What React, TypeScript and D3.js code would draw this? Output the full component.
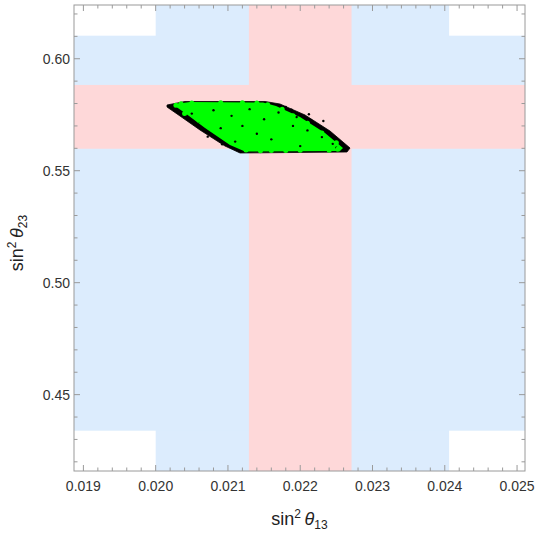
import * as d3 from "d3";
import { useEffect, useRef } from "react";

// axis ranges and tick labels
const xDomain = [0.01887, 0.02511];
const yDomain = [0.4159, 0.624];
const xTicks = [0.019, 0.02, 0.021, 0.022, 0.023, 0.024, 0.025];
const yTicks = [0.45, 0.5, 0.55, 0.6];

// 3 sigma bands (blue) and 1 sigma bands (pink)
const blueX = [0.02, 0.02406];
const blueY = [0.4339, 0.6103];
const pinkX = [0.02129, 0.02271];
const pinkY = [0.5598, 0.5883];

// allowed region: outline of the black points and of the green points
const blackEdge = [
  [0.020157, 0.57934], [0.020406, 0.58091], [0.021513, 0.58091], [0.02172, 0.57979],
  [0.022066, 0.57488], [0.022412, 0.56773], [0.022689, 0.56014], [0.022647, 0.55835],
  [0.021167, 0.55791], [0.020959, 0.56103], [0.020613, 0.56818], [0.020337, 0.57443],
  [0.020157, 0.57845]
];
const greenEdge = [
  [0.020267, 0.57979], [0.020475, 0.58068], [0.021485, 0.58046], [0.021665, 0.5789],
  [0.021997, 0.57398], [0.022343, 0.56684], [0.022592, 0.56014], [0.02255, 0.5588],
  [0.021236, 0.55858], [0.021028, 0.56148], [0.020683, 0.56907], [0.020406, 0.57577],
  [0.020267, 0.5789]
];
// dark specks seen inside the green cloud
const blackSpecks = [
  [0.0208, 0.577], [0.02105, 0.5745], [0.0213, 0.5775], [0.0215, 0.573], [0.0217, 0.576],
  [0.0219, 0.57], [0.0221, 0.568], [0.0223, 0.565], [0.02245, 0.562], [0.022, 0.561],
  [0.0216, 0.564], [0.0212, 0.57], [0.0214, 0.5665], [0.0211, 0.563], [0.0218, 0.5785],
  [0.0206, 0.572], [0.0209, 0.569], [0.0225, 0.5603], [0.02195, 0.574], [0.02215, 0.5725],
  [0.0226, 0.5612], [0.0205, 0.5755], [0.02205, 0.5745], [0.02235, 0.5675],
  [0.02188, 0.5772], [0.02212, 0.5752], [0.02232, 0.5722], [0.02092, 0.5618], [0.02072, 0.5652]
];
// green points poking out of the edges
const greenBumps = [
  [0.02028, 0.5792], [0.0204, 0.5755], [0.0206, 0.5725], [0.02085, 0.5678], [0.02105, 0.5642],
  [0.02125, 0.5592], [0.0216, 0.559], [0.022, 0.5591], [0.0224, 0.5591], [0.02252, 0.5596],
  [0.0225, 0.5625], [0.0223, 0.5668], [0.0221, 0.5712], [0.0219, 0.5745], [0.02175, 0.5775],
  [0.0214, 0.5802], [0.0209, 0.5803], [0.0205, 0.5802], [0.02155, 0.5795],
  [0.02035, 0.5799], [0.0212, 0.5804], [0.0218, 0.559], [0.02145, 0.5589], [0.02075, 0.5698]
];

const W = 535, H = 535;
const M = { left: 74, top: 5, right: 10, bottom: 64 };
const font = "'Liberation Sans', Arial, sans-serif";

const App = () => {
  const ref = useRef(null);

  useEffect(() => {
    const svg = d3.select(ref.current);
    svg.selectAll("*").remove();

    const x = d3.scaleLinear().domain(xDomain).range([M.left, W - M.right]);
    const y = d3.scaleLinear().domain(yDomain).range([H - M.bottom, M.top]);
    const x0 = M.left, x1 = W - M.right, y0 = H - M.bottom, y1 = M.top;

    const clip = svg.append("defs").append("clipPath").attr("id", "plotclip");
    clip.append("rect").attr("x", x0).attr("y", y1).attr("width", x1 - x0).attr("height", y0 - y1);

    const g = svg.append("g").attr("clip-path", "url(#plotclip)");

    // blue bands
    g.append("rect").attr("x", x(blueX[0])).attr("y", y1)
      .attr("width", x(blueX[1]) - x(blueX[0])).attr("height", y0 - y1).attr("fill", "#dcecfd");
    g.append("rect").attr("x", x0).attr("y", y(blueY[1]))
      .attr("width", x1 - x0).attr("height", y(blueY[0]) - y(blueY[1])).attr("fill", "#dcecfd");
    // pink bands
    g.append("rect").attr("x", x(pinkX[0])).attr("y", y1)
      .attr("width", x(pinkX[1]) - x(pinkX[0])).attr("height", y0 - y1).attr("fill", "#fed8d9");
    g.append("rect").attr("x", x0).attr("y", y(pinkY[1]))
      .attr("width", x1 - x0).attr("height", y(pinkY[0]) - y(pinkY[1])).attr("fill", "#fed8d9");

    const line = d3.line().x(d => x(d[0])).y(d => y(d[1])).curve(d3.curveLinearClosed);

    g.append("path").attr("d", line(blackEdge)).attr("fill", "#000")
      .attr("stroke", "#000").attr("stroke-width", 0.8).attr("stroke-linejoin", "round");
    g.append("path").attr("d", line(greenEdge)).attr("fill", "#00ff00");

    g.selectAll(".speck").data(blackSpecks).join("circle")
      .attr("cx", d => x(d[0])).attr("cy", d => y(d[1])).attr("r", 1.2).attr("fill", "#000");
    g.selectAll(".bump").data(greenBumps).join("circle")
      .attr("cx", d => x(d[0])).attr("cy", d => y(d[1])).attr("r", 2.5).attr("fill", "#00ff00");

    // frame
    const frameColor = "#9a9a9a";
    svg.append("rect").attr("x", x0).attr("y", y1).attr("width", x1 - x0).attr("height", y0 - y1)
      .attr("fill", "none").attr("stroke", frameColor).attr("stroke-width", 1);

    const ticks = svg.append("g").attr("stroke", frameColor).attr("stroke-width", 1);
    const xMinor = d3.range(0.0188, 0.0252, 0.0002).filter(v => v >= xDomain[0] && v <= xDomain[1]);
    const yMinor = d3.range(0.42, 0.63, 0.01).filter(v => v >= yDomain[0] && v <= yDomain[1]);
    const isMajorX = v => xTicks.some(t => Math.abs(t - v) < 1e-7);
    const isMajorY = v => yTicks.some(t => Math.abs(t - v) < 1e-6);

    xMinor.forEach(v => {
      const len = isMajorX(v) ? 6 : 3.5;
      ticks.append("line").attr("x1", x(v)).attr("x2", x(v)).attr("y1", y0).attr("y2", y0 - len);
      ticks.append("line").attr("x1", x(v)).attr("x2", x(v)).attr("y1", y1).attr("y2", y1 + len);
    });
    yMinor.forEach(v => {
      const len = isMajorY(v) ? 6 : 3.5;
      ticks.append("line").attr("x1", x0).attr("x2", x0 + len).attr("y1", y(v)).attr("y2", y(v));
      ticks.append("line").attr("x1", x1).attr("x2", x1 - len).attr("y1", y(v)).attr("y2", y(v));
    });

    svg.append("g").selectAll("text").data(xTicks).join("text")
      .attr("x", d => x(d)).attr("y", y0 + 20).attr("text-anchor", "middle")
      .attr("font-family", font).attr("font-size", 14).attr("fill", "#333")
      .text(d => d3.format(".3f")(d));
    svg.append("g").selectAll("text").data(yTicks).join("text")
      .attr("x", x0 - 4).attr("y", d => y(d) + 5).attr("text-anchor", "end")
      .attr("font-family", font).attr("font-size", 14).attr("fill", "#333")
      .text(d => d3.format(".2f")(d));

    const label = (sel, sub) => {
      sel.append("tspan").text("sin");
      sel.append("tspan").attr("font-size", 12).attr("dy", -7).text("2");
      sel.append("tspan").attr("dy", 7).text("\u2009");
      sel.append("tspan").attr("font-style", "italic").text("θ");
      sel.append("tspan").attr("font-size", 12).attr("dy", 4).text(sub);
    };

    const xl = svg.append("text").attr("x", (x0 + x1) / 2).attr("y", 525)
      .attr("text-anchor", "middle").attr("font-family", font).attr("font-size", 18).attr("fill", "#222");
    label(xl, "13");

    const yl = svg.append("text")
      .attr("transform", `translate(23,243) rotate(-90)`)
      .attr("text-anchor", "middle").attr("font-family", font).attr("font-size", 18).attr("fill", "#222");
    label(yl, "23");
  }, []);

  return (
    <svg ref={ref} width={W} height={H}
      style={{ position: "absolute", left: 0, top: 0, background: "#fff" }} />
  );
};

export default App;
